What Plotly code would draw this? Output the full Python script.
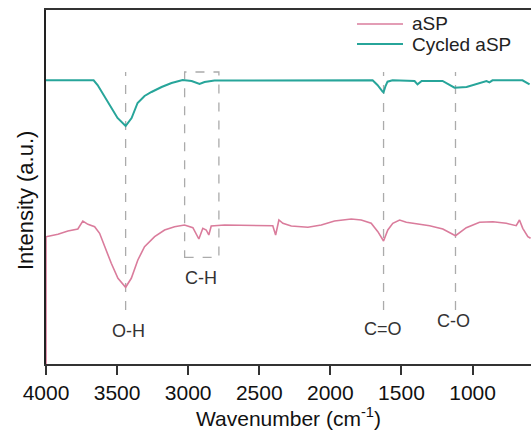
import plotly.graph_objects as go

# ---- data ----
cyc_w = [4000, 3665, 3637, 3588, 3539, 3497, 3440, 3398, 3356, 3307, 3258, 3187, 3117,
         3039, 2976, 2920, 2885, 2815, 1703, 1669, 1633, 1626, 1612, 1598, 1563, 1408,
         1387, 1358, 1211, 1127, 1042, 972, 902, 881, 860, 649, 599]
cyc_i = [283.7, 283.7, 279, 267, 256, 246, 238, 246, 261, 268, 272, 277, 281,
         284, 283, 280, 282, 283.5, 283.7, 279, 272.5, 271.7, 278, 282.3, 283.7, 283,
         279.7, 283, 283, 276.3, 277, 280.3, 283, 281.7, 283.7, 283.7, 279.7]

asp_w = [4000, 4000, 3916, 3846, 3776, 3741, 3705, 3658, 3623, 3588, 3541, 3494, 3440,
         3400, 3354, 3307, 3236, 3166, 3096, 3026, 2967, 2925, 2897, 2873, 2855, 2838,
         2744, 2405, 2385, 2362, 2334, 2275, 2158, 2064, 1971, 1853, 1783, 1713, 1666,
         1626, 1596, 1561, 1513, 1466, 1396, 1302, 1209, 1120, 1044, 951, 857, 763,
         693, 670, 647, 611, 592]
asp_i = [-20, 127.3, 129.7, 133, 135, 143, 139.7, 137.3, 130.7, 117.3, 100.7, 85.7, 76.7,
         85.7, 104, 117.3, 127.3, 134, 137.3, 139, 136.3, 125, 135.7, 134, 129, 138,
         139, 138.3, 129, 144, 140.7, 138, 136.7, 139, 143, 145, 144, 140.7, 132.3,
         123, 134, 140.7, 144, 141.7, 140, 138.3, 135, 128.3, 136.3, 141.7, 142.3, 140.7,
         138.3, 144, 135.7, 127.3, 125.7]

peak_w = [3440, 1626, 1120]          # dashed guide lines
peak_labels = ["O-H", "C=O", "C-O"]
label_w = [3422, 1628, 1135]
label_i = [33.5, 35, 43]
ch_box = [3025, 2784]               # C-H dashed box (wavenumber span)
ch_label = ("C-H", 2908, 86)

series_names = ["aSP", "Cycled aSP"]
x_ticks = [4000, 3500, 3000, 2500, 2000, 1500, 1000]

PINK = "#DA7C9C"
TEAL = "#27A59A"
GRAY = "#ABABAB"
FONT = "Arial, Liberation Sans, sans-serif"

# plot-area geometry (pixels) used for the hand-placed legend
L, R, T, B = 46, 531, 10, 364
W, H = R - L, B - T


def px(x):
    return (x - L) / W


def py(y):
    return (B - y) / H


fig = go.Figure()
fig.add_trace(go.Scatter(x=asp_w, y=asp_i, mode="lines", name=series_names[0],
                         line=dict(color=PINK, width=1.6), showlegend=False))
fig.add_trace(go.Scatter(x=cyc_w, y=cyc_i, mode="lines", name=series_names[1],
                         line=dict(color=TEAL, width=2), showlegend=False))

shapes = []
for w in peak_w:
    shapes.append(dict(type="line", xref="x", yref="y", x0=w, x1=w, y0=54, y1=292,
                       line=dict(color=GRAY, width=1.3, dash="dash"), layer="below"))
shapes.append(dict(type="rect", xref="x", yref="y", x0=ch_box[0], x1=ch_box[1],
                   y0=106.7, y1=292, line=dict(color=GRAY, width=1.3, dash="dash"),
                   layer="below"))

annotations = []
for t, w, i in zip(peak_labels, label_w, label_i):
    annotations.append(dict(x=w, y=i, xref="x", yref="y", text=t, showarrow=False,
                            font=dict(size=18, color="#333333", family=FONT)))
annotations.append(dict(x=ch_label[1], y=ch_label[2], xref="x", yref="y", text=ch_label[0],
                        showarrow=False, font=dict(size=18, color="#333333", family=FONT)))

# legend (hand placed to match the reference's long, tight entries)
for name, col, wid, ypx in [(series_names[0], PINK, 1.6, 24),
                            (series_names[1], TEAL, 2, 44)]:
    shapes.append(dict(type="line", xref="paper", yref="paper", x0=px(357), x1=px(403),
                       y0=py(ypx), y1=py(ypx), line=dict(color=col, width=wid)))
    annotations.append(dict(x=px(411), y=py(ypx), xref="paper", yref="paper", text=name,
                            showarrow=False, xanchor="left", yanchor="middle",
                            borderpad=0,
                            font=dict(size=19, color="#222222", family=FONT)))

# y-axis title
annotations.append(dict(x=px(25), y=py(201), xref="paper", yref="paper",
                        text="Intensity (a.u.)", textangle=-90, showarrow=False,
                        xanchor="center", yanchor="middle",
                        font=dict(size=22, color="#111111", family=FONT)))

fig.update_layout(
    width=531, height=430,
    margin=dict(l=L, r=531 - R, t=T, b=430 - B),
    paper_bgcolor="white", plot_bgcolor="white",
    font=dict(family=FONT, size=21, color="#111111"),
    shapes=shapes, annotations=annotations,
    showlegend=False,
    xaxis=dict(range=[4000, 589], tickvals=x_ticks, ticks="outside", ticklen=9,
               tickwidth=2, tickcolor="#333333", showline=True, linecolor="#333333",
               linewidth=2, mirror=True, showgrid=False, zeroline=False,
               title=dict(text="Wavenumber (cm<sup>-1</sup>)", standoff=5,
                          font=dict(size=21)),
               tickfont=dict(size=21), layer="below traces"),
    yaxis=dict(range=[0, 354], showticklabels=False, ticks="", showline=True,
               linecolor="#222222", linewidth=2, mirror=False, showgrid=False,
               zeroline=False, layer="below traces"),
)

fig.write_html("out.html")
